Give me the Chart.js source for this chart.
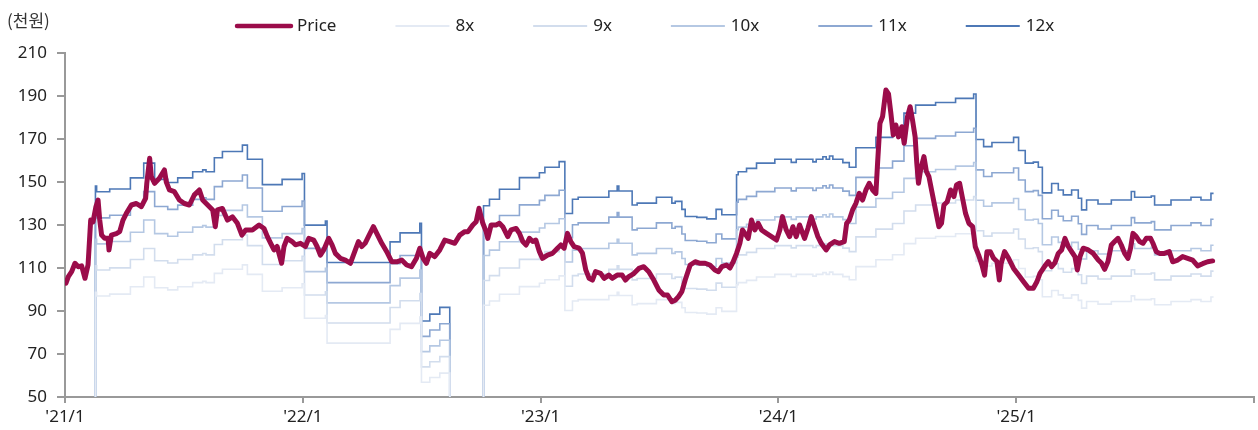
<!DOCTYPE html>
<html>
<head>
<meta charset="utf-8">
<script src="https://cdn.jsdelivr.net/npm/chart.js@4"></script>
<style>
  html, body { margin: 0; padding: 0; background: #fff; }
</style>
</head>
<body>
<canvas id="perBand"></canvas>
<script>
// price (천원), dates as decimal years
const priceDates = [
  2021.004, 2021.014, 2021.028, 2021.042, 2021.056, 2021.070, 2021.084, 2021.097, 2021.108, 2021.118,
  2021.130, 2021.139, 2021.146, 2021.154, 2021.167, 2021.181, 2021.185, 2021.195, 2021.216, 2021.230,
  2021.244, 2021.258, 2021.279, 2021.300, 2021.321, 2021.339, 2021.344, 2021.356, 2021.363, 2021.377,
  2021.397, 2021.418, 2021.426, 2021.439, 2021.460, 2021.481, 2021.502, 2021.523, 2021.544, 2021.565,
  2021.579, 2021.600, 2021.621, 2021.632, 2021.641, 2021.662, 2021.683, 2021.704, 2021.725, 2021.744,
  2021.760, 2021.788, 2021.816, 2021.837, 2021.851, 2021.865, 2021.879, 2021.892, 2021.911, 2021.921,
  2021.934, 2021.955, 2021.969, 2021.990, 2022.011, 2022.025, 2022.046, 2022.060, 2022.074, 2022.088,
  2022.109, 2022.123, 2022.137, 2022.158, 2022.179, 2022.200, 2022.221, 2022.234, 2022.248, 2022.262,
  2022.279, 2022.297, 2022.311, 2022.332, 2022.353, 2022.374, 2022.395, 2022.416, 2022.437, 2022.457,
  2022.478, 2022.492, 2022.506, 2022.520, 2022.534, 2022.555, 2022.576, 2022.597, 2022.618, 2022.639,
  2022.660, 2022.681, 2022.695, 2022.715, 2022.729, 2022.741, 2022.748, 2022.757, 2022.771, 2022.778,
  2022.792, 2022.813, 2022.827, 2022.841, 2022.862, 2022.876, 2022.897, 2022.911, 2022.925, 2022.939,
  2022.953, 2022.967, 2022.980, 2022.995, 2023.008, 2023.029, 2023.050, 2023.071, 2023.085, 2023.099,
  2023.113, 2023.127, 2023.141, 2023.162, 2023.176, 2023.190, 2023.204, 2023.218, 2023.231, 2023.252,
  2023.267, 2023.287, 2023.301, 2023.322, 2023.343, 2023.357, 2023.371, 2023.392, 2023.413, 2023.434,
  2023.455, 2023.476, 2023.497, 2023.518, 2023.534, 2023.552, 2023.566, 2023.580, 2023.594, 2023.608,
  2023.629, 2023.650, 2023.671, 2023.692, 2023.712, 2023.733, 2023.748, 2023.762, 2023.782, 2023.796,
  2023.810, 2023.824, 2023.838, 2023.849, 2023.859, 2023.873, 2023.887, 2023.901, 2023.915, 2023.929,
  2023.950, 2023.971, 2023.992, 2024.006, 2024.017, 2024.033, 2024.047, 2024.061, 2024.075, 2024.089,
  2024.110, 2024.124, 2024.138, 2024.152, 2024.166, 2024.180, 2024.201, 2024.215, 2024.236, 2024.256,
  2024.277, 2024.287, 2024.298, 2024.312, 2024.326, 2024.340, 2024.354, 2024.368, 2024.382, 2024.396,
  2024.410, 2024.417, 2024.427, 2024.438, 2024.452, 2024.463, 2024.473, 2024.483, 2024.494, 2024.505,
  2024.519, 2024.529, 2024.543, 2024.554, 2024.564, 2024.575, 2024.582, 2024.589, 2024.598, 2024.612,
  2024.622, 2024.633, 2024.644, 2024.658, 2024.675, 2024.686, 2024.696, 2024.710, 2024.724, 2024.738,
  2024.749, 2024.762, 2024.773, 2024.787, 2024.801, 2024.817, 2024.828, 2024.842, 2024.856, 2024.867,
  2024.877, 2024.891, 2024.905, 2024.919, 2024.929, 2024.937, 2024.951, 2024.968, 2024.989, 2025.010,
  2025.031, 2025.052, 2025.072, 2025.087, 2025.100, 2025.121, 2025.135, 2025.149, 2025.163, 2025.177,
  2025.191, 2025.205, 2025.219, 2025.233, 2025.247, 2025.257, 2025.268, 2025.282, 2025.303, 2025.324,
  2025.345, 2025.359, 2025.372, 2025.386, 2025.400, 2025.414, 2025.428, 2025.442, 2025.456, 2025.470,
  2025.481, 2025.491, 2025.505, 2025.519, 2025.533, 2025.547, 2025.565, 2025.575, 2025.589, 2025.603,
  2025.623, 2025.644, 2025.658, 2025.679, 2025.700, 2025.721, 2025.742, 2025.763, 2025.784, 2025.805,
  2025.826
];
const priceValues = [
  102.9, 106.0, 108.3, 112.2, 110.6, 111.0, 105.2, 111.5, 132.3, 131.5,
  138.5, 141.6, 132.3, 125.3, 123.8, 123.8, 118.4, 125.3, 126.0, 126.9,
  132.3, 135.4, 139.3, 140.0, 138.5, 142.4, 149.4, 161.0, 152.5, 149.4,
  151.7, 155.6, 150.0, 146.3, 145.5, 141.6, 140.0, 139.3, 144.0, 146.3,
  141.6, 139.3, 137.0, 129.2, 137.0, 137.7, 132.3, 133.8, 130.8, 125.3,
  127.7, 127.7, 130.0, 128.4, 124.6, 121.5, 118.4, 120.0, 112.2, 120.0,
  123.8, 122.3, 120.8, 121.5, 120.0, 123.8, 123.0, 120.0, 116.0, 118.4,
  123.8, 120.8, 116.8, 114.5, 113.7, 112.2, 118.4, 122.3, 120.0, 121.5,
  125.3, 129.2, 126.1, 121.5, 117.6, 112.9, 112.9, 113.7, 111.4, 110.6,
  114.5, 119.2, 114.5, 112.2, 116.8, 115.3, 118.4, 123.0, 122.3, 121.5,
  125.3, 126.9, 126.9, 130.0, 131.5, 137.8, 134.6, 130.8, 126.9, 123.8,
  130.0, 130.0, 130.8, 129.2, 124.6, 127.7, 128.4, 126.1, 122.3, 120.7,
  123.8, 122.3, 123.0, 117.6, 114.5, 116.0, 116.8, 119.2, 120.7, 119.2,
  126.1, 122.3, 119.9, 119.2, 116.9, 109.1, 105.2, 104.4, 108.3, 107.5,
  105.2, 106.7, 105.2, 106.7, 106.7, 104.4, 106.0, 107.4, 109.8, 110.6,
  108.3, 104.4, 99.8, 97.4, 97.4, 94.3, 95.0, 96.7, 99.0, 104.4,
  111.4, 112.9, 112.2, 112.2, 111.4, 109.1, 108.3, 110.6, 111.4, 110.0,
  112.9, 116.8, 121.5, 127.7, 126.1, 123.8, 132.3, 127.7, 130.8, 127.7,
  126.1, 124.6, 123.0, 127.7, 133.9, 127.7, 124.6, 129.2, 124.6, 130.0,
  123.8, 128.4, 133.9, 129.2, 124.6, 121.5, 118.4, 120.8, 122.3, 121.5,
  122.3, 130.8, 132.3, 137.0, 140.1, 144.7, 141.6, 146.3, 149.4, 146.3,
  144.7, 158.7, 177.3, 180.4, 192.8, 191.0, 182.0, 171.9, 176.5, 171.0,
  175.7, 168.0, 180.4, 185.0, 178.8, 171.0, 158.7, 149.4, 155.6, 161.8,
  155.0, 152.5, 146.3, 138.5, 129.2, 130.8, 139.3, 140.8, 146.3, 143.2,
  148.6, 149.4, 143.2, 135.4, 130.8, 129.2, 119.9, 116.0, 111.4, 106.7,
  117.6, 117.6, 114.5, 113.0, 104.4, 112.2, 117.6, 114.5, 109.8, 106.7,
  103.6, 100.6, 100.6, 103.6, 107.5, 111.0, 113.0, 110.6, 112.5, 116.8,
  118.4, 123.8, 120.0, 117.6, 115.3, 109.1, 115.3, 119.2, 118.4, 116.8,
  113.7, 112.2, 109.4, 113.0, 120.7, 122.3, 123.8, 120.7, 116.8, 114.5,
  119.2, 126.1, 124.6, 122.3, 121.5, 123.8, 123.8, 121.5, 117.6, 116.8,
  116.8, 117.6, 112.9, 113.7, 115.3, 114.5, 113.7, 111.0, 112.0, 112.9,
  113.3
];

// EPS (천원) steps used for the PER bands; a value holds until the next date
const epsDates = [
  2021.000, 2021.128, 2021.133, 2021.188, 2021.275, 2021.331, 2021.377, 2021.432, 2021.474, 2021.537,
  2021.579, 2021.593, 2021.628, 2021.662, 2021.746, 2021.767, 2021.830, 2021.913, 2021.997, 2022.007,
  2022.095, 2022.102, 2022.367, 2022.409, 2022.492, 2022.499, 2022.534, 2022.576, 2022.618, 2022.760,
  2022.785, 2022.827, 2022.911, 2022.995, 2023.018, 2023.078, 2023.102, 2023.134, 2023.158, 2023.287,
  2023.322, 2023.329, 2023.385, 2023.406, 2023.487, 2023.552, 2023.566, 2023.594, 2023.608, 2023.657,
  2023.699, 2023.738, 2023.762, 2023.824, 2023.831, 2023.866, 2023.908, 2023.985, 2024.054, 2024.075,
  2024.145, 2024.159, 2024.187, 2024.201, 2024.215, 2024.229, 2024.271, 2024.298, 2024.326, 2024.410,
  2024.480, 2024.528, 2024.577, 2024.661, 2024.745, 2024.821, 2024.831, 2024.863, 2024.898, 2024.989,
  2025.010, 2025.038, 2025.072, 2025.093, 2025.110, 2025.149, 2025.177, 2025.198, 2025.233, 2025.261,
  2025.275, 2025.296, 2025.344, 2025.400, 2025.484, 2025.498, 2025.568, 2025.582, 2025.651, 2025.735,
  2025.777, 2025.819, 2025.830
];
const epsValues = [
  0, 12.34, 12.12, 12.23, 12.66, 13.23, 12.60, 12.48, 12.66, 12.90,
  12.97, 12.90, 13.44, 13.68, 13.93, 13.38, 12.40, 12.60, 12.83, 10.83,
  10.99, 9.38, 10.18, 10.53, 10.90, 7.11, 7.38, 7.64, 0, 11.58,
  11.83, 12.22, 12.67, 12.86, 13.07, 13.29, 11.28, 11.83, 11.91, 12.15,
  12.34, 12.15, 11.61, 11.68, 11.91, 11.68, 11.75, 11.44, 11.16, 11.13,
  11.07, 11.44, 11.23, 12.78, 12.90, 13.03, 13.23, 13.38, 13.26, 13.38,
  13.28, 13.38, 13.48, 13.38, 13.51, 13.38, 13.25, 13.07, 13.83, 14.23,
  14.52, 15.17, 15.48, 15.58, 15.74, 15.91, 14.15, 13.87, 14.03, 14.23,
  13.72, 13.23, 13.27, 13.07, 12.08, 12.44, 12.19, 12.00, 12.19, 11.87,
  11.42, 11.80, 11.65, 11.80, 12.13, 11.91, 11.96, 11.61, 11.80, 11.91,
  11.80, 12.06, 12.06
];

const multiples = [8, 9, 10, 11, 12];
const bandColors = ['#E4EAF4', '#D2DDED', '#B5C8E3', '#8DA8D2', '#4D78B6'];
const yearTicks = [2021, 2022, 2023, 2024, 2025, 2026];

const FONT = '"Noto Sans", "Noto Sans CJK KR", sans-serif';

const priceData = priceDates.map((d, i) => ({ x: d, y: priceValues[i] }));

const datasets = [{
  label: 'Price',
  data: priceData,
  borderColor: '#9B0C4A',
  backgroundColor: '#9B0C4A',
  borderWidth: 5,
  borderJoinStyle: 'round',
  borderCapStyle: 'round',
  pointRadius: 0
}];

multiples.forEach((m, k) => {
  datasets.push({
    label: m + 'x',
    data: epsDates.map((d, i) => ({ x: d, y: epsValues[i] * m })),
    borderColor: bandColors[k],
    backgroundColor: bandColors[k],
    borderWidth: 1.6,
    stepped: 'before',
    pointRadius: 0
  });
});

// unit label and a single-row legend drawn above the plot
const topLabels = {
  id: 'topLabels',
  afterDraw(chart) {
    const ctx = chart.ctx;
    ctx.save();
    ctx.font = '17px "Noto Sans CJK KR", sans-serif';
    ctx.fillStyle = '#333';
    ctx.textBaseline = 'middle';
    ctx.fillText('(천원)', 7, 21);

    ctx.font = '17px ' + FONT;
    let x = 237;
    const y = 26;
    chart.data.datasets.forEach(ds => {
      ctx.strokeStyle = ds.borderColor;
      ctx.lineWidth = ds.label === 'Price' ? 4.5 : 1.8;
      ctx.lineCap = ds.label === 'Price' ? 'round' : 'butt';
      ctx.beginPath();
      ctx.moveTo(x, y);
      ctx.lineTo(x + 54, y);
      ctx.stroke();
      ctx.fillStyle = '#222';
      ctx.fillText(ds.label, x + 60, y);
      x += 60 + ctx.measureText(ds.label).width + 59;
    });
    ctx.restore();
  }
};

const canvas = document.getElementById('perBand');
canvas.width = 1258;
canvas.height = 430;

new Chart(canvas.getContext('2d'), {
  type: 'line',
  data: { datasets: datasets },
  plugins: [topLabels],
  options: {
    responsive: false,
    animation: false,
    devicePixelRatio: 1,
    layout: { padding: { left: 0, right: 2, top: 53, bottom: 0 } },
    plugins: {
      tooltip: { enabled: false },
      legend: { display: false }
    },
    scales: {
      x: {
        type: 'linear',
        min: 2021,
        max: 2026,
        afterBuildTicks(scale) { scale.ticks = yearTicks.map(v => ({ value: v })); },
        afterFit(scale) { scale.height = 33; },
        ticks: {
          autoSkip: false,
          maxRotation: 0,
          padding: 4,
          color: '#222',
          font: { family: FONT, size: 17 },
          callback: v => v < 2026 ? "'" + String(v).slice(2) + '/1' : ''
        },
        grid: { drawOnChartArea: false, tickLength: 6, color: '#999', lineWidth: 2 },
        border: { color: '#999', width: 2 }
      },
      y: {
        min: 50,
        max: 210,
        afterFit(scale) { scale.width = 65; },
        ticks: {
          stepSize: 20,
          padding: 10,
          color: '#222',
          font: { family: FONT, size: 17 }
        },
        grid: { drawOnChartArea: false, tickLength: 8, color: '#999', lineWidth: 2 },
        border: { color: '#999', width: 2 }
      }
    }
  }
});
</script>
</body>
</html>
